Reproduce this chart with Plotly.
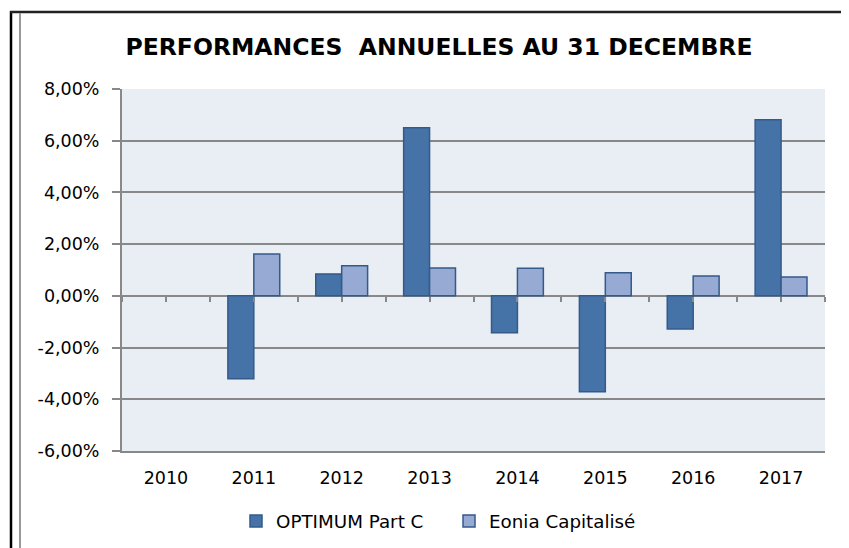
import plotly.graph_objects as go

years = ["2010", "2011", "2012", "2013", "2014", "2015", "2016", "2017"]
optimum = [None, -0.0321, 0.0085, 0.0650, -0.0143, -0.0371, -0.0128, 0.0681]
eonia = [None, 0.0162, 0.0116, 0.0108, 0.0107, 0.0089, 0.0077, 0.0073]
series_names = ["OPTIMUM Part C", "Eonia Capitalisé"]
y_ticks = [-0.06, -0.04, -0.02, 0.0, 0.02, 0.04, 0.06, 0.08]
y_tick_labels = ["-6,00%", "-4,00%", "-2,00%", "0,00%", "2,00%", "4,00%", "6,00%", "8,00%"]

# page has an 8px body margin, so the figure is drawn 8px right/down
OFF = 8
W, H = 849 - OFF, 548 - OFF
PL, PR, PT, PB = 122, 825, 89, 451       # plot area in page pixels
L, T = PL - OFF, PT - OFF
pw, ph = PR - PL, PB - PT
R, B = W - L - pw, H - T - ph

def px(x):
    return (x - PL) / pw

def py(y):
    return (PB - y) / ph

FONT = "DejaVu Sans"
GRID = "#888888"

fig = go.Figure()
fig.add_trace(go.Bar(x=years, y=optimum, name=series_names[0],
                     marker=dict(color="#4572A7", line=dict(color="#345A8A", width=1.5))))
fig.add_trace(go.Bar(x=years, y=eonia, name=series_names[1],
                     marker=dict(color="#96AAD3", line=dict(color="#345A8A", width=1.5))))

shapes = [
    dict(type="line", xref="paper", yref="paper", x0=px(11), x1=px(11), y0=py(11), y1=py(560),
         line=dict(color="black", width=2.5)),
    dict(type="line", xref="paper", yref="paper", x0=px(10), x1=px(849), y0=py(12), y1=py(12),
         line=dict(color="#222222", width=2.5)),
    dict(type="line", xref="paper", yref="paper", x0=px(20), x1=px(20), y0=py(13), y1=py(560),
         line=dict(color="#999999", width=2)),
    dict(type="line", xref="paper", yref="paper", x0=px(847.5), x1=px(847.5), y0=py(13), y1=py(560),
         line=dict(color="#DDDDDD", width=1)),
]

fig.update_layout(
    width=W, height=H,
    margin=dict(l=L, r=R, t=T, b=B, autoexpand=False),
    paper_bgcolor="white",
    plot_bgcolor="#E9EDF4",
    separators=", ",
    barmode="group",
    bargap=0.41,
    bargroupgap=0,
    font=dict(family=FONT, color="black", size=17.5),
    title=dict(text="<b>PERFORMANCES  ANNUELLES AU 31 DECEMBRE</b>",
               x=px(439), xref="paper", xanchor="center",
               y=1 - (47 - OFF) / H, yref="container", yanchor="middle",
               font=dict(family=FONT, size=23.5, color="black")),
    showlegend=True,
    legend=dict(orientation="h", x=px(236), xanchor="left", y=py(521), yanchor="middle",
                font=dict(family=FONT, size=18.3), traceorder="normal", itemwidth=30,
                entrywidth=168, entrywidthmode="pixels",
                bgcolor="rgba(0,0,0,0)"),
    xaxis=dict(type="category", categoryorder="array", categoryarray=years,
               showgrid=False, showline=True, linecolor=GRID, linewidth=2,
               ticks="", tickfont=dict(size=17.5), ticklabelstandoff=10, zeroline=False),
    xaxis2=dict(overlaying="x", anchor="free", position=(0 - y_ticks[0]) / (y_ticks[-1] - y_ticks[0]),
                type="linear", range=[-0.5, len(years) - 0.5], tick0=-0.5, dtick=0.5,
                showline=False, ticks="outside", ticklen=5, tickwidth=2, tickcolor=GRID,
                showticklabels=False, showgrid=False, zeroline=False, side="bottom"),
    yaxis=dict(range=[y_ticks[0], y_ticks[-1]], tickvals=y_ticks, ticktext=y_tick_labels,
               showgrid=True, gridcolor=GRID, gridwidth=2,
               showline=True, linecolor=GRID, linewidth=2,
               ticks="outside", ticklen=8, tickwidth=2, tickcolor=GRID,
               ticklabelstandoff=9, zeroline=False, tickfont=dict(size=17.5)),
    shapes=shapes,
)
fig.add_trace(go.Scatter(x=[0], y=[0], xaxis="x2", mode="markers",
                         marker=dict(opacity=0), showlegend=False, hoverinfo="skip"))

fig.write_html("out.html")
